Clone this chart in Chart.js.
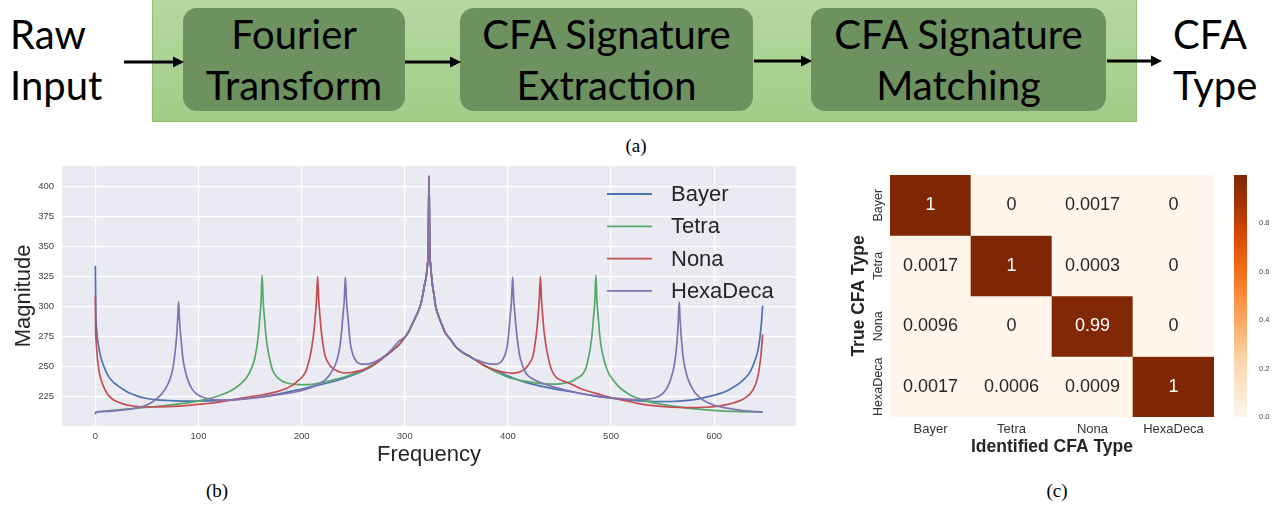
<!DOCTYPE html>
<html>
<head>
<meta charset="utf-8">
<script src="https://cdn.jsdelivr.net/npm/chart.js@4.4.1/dist/chart.umd.min.js"></script>
<style>
  html, body { margin: 0; padding: 0; background: #fff; }
  body { width: 1278px; height: 509px; position: relative; overflow: hidden; }
  .abs { position: absolute; }
  #panel { left: 152px; top: -1px; width: 985px; height: 123px; box-sizing: border-box;
           background: linear-gradient(#b5d7a1, #a2cd88); border: 1px solid #8dc16e; }
  .box { position: absolute; top: 8px; height: 103px; background: #6e9160; border-radius: 14px;
         display: flex; align-items: center; justify-content: center; }
  .txt { font-family: Lato, sans-serif; font-size: 40px; line-height: 51px; color: #000; text-align: center; }
  .side { position: absolute; top: 9px; text-align: left; }
  .cap { position: absolute; font-family: "Liberation Serif", serif; font-size: 19px; color: #000;
         transform: translate(-50%, -50%); }
  canvas { position: absolute; }
</style>
</head>
<body>
<!-- (a) pipeline -->
<div id="panel" class="abs"></div>
<div class="box" style="left:183px;width:222px"><div class="txt">Fourier<br>Transform</div></div>
<div class="box" style="left:460px;width:293px"><div class="txt">CFA Signature<br>Extraction</div></div>
<div class="box" style="left:811px;width:295px"><div class="txt">CFA Signature<br>Matching</div></div>
<div class="txt side" style="left:10px">Raw<br>Input</div>
<div class="txt side" style="left:1173px">CFA<br>Type</div>
<svg class="abs" style="left:0;top:0" width="1278" height="130">
  <g stroke="#000" stroke-width="3">
    <line x1="124" y1="62" x2="175" y2="62"/>
    <line x1="405" y1="62" x2="452" y2="62"/>
    <line x1="754" y1="61" x2="803" y2="61"/>
    <line x1="1107" y1="61" x2="1153" y2="61"/>
  </g>
  <g fill="#000">
    <polygon points="184,62 173,56.5 173,67.5"/>
    <polygon points="461,62 450,56.5 450,67.5"/>
    <polygon points="812,61 801,55.5 801,66.5"/>
    <polygon points="1162,61 1151,55.5 1151,66.5"/>
  </g>
</svg>
<div class="cap" style="left:636px;top:146px">(a)</div>

<canvas id="spec" width="810" height="320" style="left:0;top:160px"></canvas>
<canvas id="heat" width="385" height="310" style="left:840px;top:160px"></canvas>
<canvas id="cbar" width="53" height="310" style="left:1225px;top:160px"></canvas>
<div class="cap" style="left:217px;top:491px">(b)</div>
<div class="cap" style="left:1057px;top:491px">(c)</div>

<script>
// ---- (b) spectrum data ----
const seriesNames = ['Bayer', 'Tetra', 'Nona', 'HexaDeca'];
const seriesColors = ['#4C72B0', '#55A868', '#C44E52', '#8172B2'];
const freqTicks = [0, 100, 200, 300, 400, 500, 600];
const magTicks = [225, 250, 275, 300, 325, 350, 375, 400];

const bayerX = [0, 0.4, 1.3, 3, 5, 7.5, 10, 13, 17, 21, 26, 32, 40, 50, 60, 70, 85, 100, 120, 140,
  160, 178, 195, 210, 225, 236, 248, 258, 268, 276,
  284, 289, 293.5, 297.5, 301, 304, 307, 310, 313, 315.5, 317.5, 319.2, 320.8, 322, 322.8, 323.5,
  324.2, 325, 326, 327.2, 328.5, 330, 332.8, 336, 339.2, 344, 349, 355, 361, 368,
  380, 390, 401, 417, 433, 450, 466, 482, 494, 510, 527, 545, 559, 572, 585, 601, 610, 617, 624,
  630, 635, 639, 642, 644, 645.7, 647];
const bayerY = [334, 298, 280, 268, 259, 252, 246.5, 241.6, 237.5, 234.7, 231.8, 228.5, 225.8, 223.6,
  222.4, 221.9, 221.4, 221.4, 221.8, 222.8,
  224.8, 227.5, 230.5, 233.5, 236.5, 239, 242.5, 246, 250.3, 255.2,
  260.8, 264.3, 267.5, 271.5, 275.5, 279.5, 285, 290.5, 296, 302, 310, 318, 325, 335, 348, 408.6,
  348, 335, 325, 316, 309, 300, 292, 285, 278.5, 273, 267, 262.5, 259.5, 256,
  250, 245.8, 242, 237, 233.6, 230.8, 228.6, 226, 224.4, 222.8, 221.6, 221, 221.1, 221.8, 223.3,
  226.6, 229, 232.2, 236, 240.5, 246, 254, 262, 272, 285, 301];

const tetraX = [0, 12, 25, 40, 55, 70, 85, 97, 108, 118, 128, 136, 142, 147, 151, 154, 156.3, 158,
  159.5, 160.7, 161.7, 162.7, 163.9, 165.4, 167.1, 169.4, 171.5, 175, 180.8, 187, 194, 202, 210,
  218, 226, 234, 242, 250, 258, 266, 275,
  284, 289, 293.5, 297.5, 301, 304, 307, 310, 313, 315.5, 317.5, 319.2, 320.8, 322, 322.8, 323.5,
  324.2, 325, 326, 327.2, 328.5, 330, 332.8, 336, 339.2, 344, 349, 355, 361, 368,
  378, 389, 401, 413, 425, 437, 447, 455, 462, 467, 471.5, 475.3, 477.5, 479.8, 481.5, 483, 484.3,
  485.3, 486.3, 487.6, 489.1, 490.8, 493.1, 495.3, 498, 501.2, 504.4, 510, 520, 531, 543, 558,
  575, 590, 607, 625, 647];
const tetraY = [212.2, 213.3, 214.3, 215.5, 216.6, 218, 219.5, 221, 223, 225.5, 228.5, 232.5, 236.5,
  241.5, 248, 255, 265, 276, 291, 305, 326.2, 305, 291, 276, 265, 255, 248, 242.5, 238.2, 236.3,
  235.3, 235.1, 235.3, 236.7, 238, 239.8, 241.5, 244, 246.8, 250.5, 255.3,
  260.8, 264.3, 267.5, 271.5, 275.5, 279.5, 285, 290.5, 296, 302, 310, 318, 325, 335, 348, 408.6,
  348, 335, 325, 316, 309, 300, 292, 285, 278.5, 273, 267, 262.5, 259.5, 256,
  250.5, 245.5, 241, 238.5, 236.8, 235.8, 235.5, 236.3, 238, 240.5, 243, 248, 255, 265, 276, 291,
  305, 326.2, 305, 291, 276, 265, 256, 249.5, 244, 240, 236.4, 231.5, 225.8, 222.2, 219.7, 217.5,
  215.5, 214.3, 213.3, 212.7, 212.2];

const nonaX = [0, 0.2, 0.7, 1.5, 2.6, 4, 5.8, 8, 10, 13, 17, 23, 30, 37, 45, 52, 62, 75, 90, 105,
  120, 135, 145, 152, 160, 168, 176, 184, 191, 196, 200.5, 204, 206, 208, 210, 212, 213.2, 214.4,
  215.5, 216.6, 217.8, 219, 221, 223, 226, 229, 232.4, 237, 242, 248, 255, 262, 268, 274, 280,
  284, 289, 293.5, 297.5, 301, 304, 307, 310, 313, 315.5, 317.5, 319.2, 320.8, 322, 322.8, 323.5,
  324.2, 325, 326, 327.2, 328.5, 330, 332.8, 336, 339.2, 344, 349, 355, 361, 368,
  374, 379, 385, 392, 399, 405, 410, 414.6, 418, 421, 424, 426, 428, 429.2, 430.4, 431.5, 432.6,
  433.8, 435, 437, 439, 441, 443, 446.5, 451, 456, 464, 472, 480, 488, 496, 510, 527, 543, 559,
  575, 591, 602, 611, 620, 627, 632, 636.6, 640, 642.4, 644, 645.2, 646.2, 647];
const nonaY = [309, 285, 272, 262, 252.5, 244.5, 238.6, 233.5, 229.8, 226, 222.8, 220.3, 218.3,
  217.3, 216.7, 216.5, 216.6, 217, 217.9, 219.1,
  220.6, 222.8, 224.4, 225.3, 226.3, 227.6, 229.3, 231.5, 234.5, 238, 241.5, 246, 251, 258, 267,
  280, 292, 305, 325.2, 305, 292, 280, 267, 258.5, 253, 249.5, 247.5, 245.6, 244.8, 245.2, 246.3,
  248.1, 250.5, 254.2, 258.3,
  260.8, 264.3, 267.5, 271.5, 275.5, 279.5, 285, 290.5, 296, 302, 310, 318, 325, 335, 348, 408.6,
  348, 335, 325, 316, 309, 300, 292, 285, 278.5, 273, 267, 262.5, 259.5, 256,
  252.5, 250.2, 248, 246.1, 245, 244.7, 245.3, 247, 249.5, 253, 258, 267, 280, 292, 305, 325.2,
  305, 292, 280, 267, 258, 251, 246.1, 241.5, 239, 237.5, 234.5, 231.3, 229.2, 227.2, 225.2,
  222.5, 219.3, 217.4, 216.3, 216, 216.3, 217, 218.3, 220.3, 222.5, 225.3, 229.4, 235, 242, 250,
  258, 268, 277];

const hexaX = [0, 0.8, 10, 20, 30, 39, 47, 55, 61, 65.5, 69.5, 72.5, 74.8, 76.3, 77.8, 79, 80, 80.7,
  81.4, 82.5, 83.8, 85.2, 87, 89.5, 92, 96, 101, 107, 114, 122, 130, 140, 152, 163, 177.5, 193.7,
  205, 213, 219, 224, 228.5, 232.4, 235, 237.3, 238.8, 240, 241.3, 242.4, 243.5, 244.8, 246,
  247.3, 249, 252, 255, 258.3, 263, 268, 274, 281, 287, 293.9, 301,
  304, 307, 310, 313, 315.5, 317.5, 319.2, 320.8, 322, 322.8, 323.5,
  324.2, 325, 326, 327.2, 328.5, 330, 332.8, 336, 339.2, 344, 349, 355, 361, 368,
  373, 379, 384, 388.7, 392, 395, 398, 399.7, 401, 402.2, 403.5, 404.6, 405.7, 407, 408.2, 409.7,
  411.5, 414, 417.2, 421, 427, 435, 443, 454, 465.6, 477, 488, 500, 512, 527, 537, 546, 551, 555,
  558, 560.3, 562, 563.5, 564.6, 565.4, 566.1, 566.8, 567.8, 569, 570.4, 572.3, 574.5, 577.5, 581,
  586, 592, 600, 608, 619, 630, 640, 647];
const hexaY = [210.3, 212.5, 212.9, 213.5, 214.4, 215.5, 217.3, 220.5, 224.5, 228.5, 234, 240, 247,
  255, 266, 278, 292, 304, 292, 278, 266, 255, 247, 239.5, 234, 229, 225.8, 223.8, 222.6, 222.2,
  222.4, 222.9, 223.8, 225, 226.8, 229, 231.5, 234, 236.8, 240, 245, 251, 258, 268, 280, 292, 305,
  324.5, 305, 292, 280, 269, 262, 255.8, 253, 252.2, 252.2, 253, 255.5, 259.3, 264, 271, 275.5,
  279.5, 285, 290.5, 296, 302, 310, 318, 325, 335, 348, 408.6,
  348, 335, 325, 316, 309, 300, 292, 285, 278.5, 273, 267, 262.5, 259.5, 256,
  254.8, 253, 252.2, 252.2, 253, 255.8, 262, 269, 280, 292, 305, 324.5, 305, 292, 280, 269, 259,
  251.5, 245, 241.5, 238.6, 235.8, 233.5, 231, 228.6, 226.8, 225.3, 224.2, 223.3, 222.5, 223.2,
  225.2, 228.5, 233.5, 240, 247, 255, 266, 278, 292, 304, 292, 278, 266, 255, 247, 240, 234, 229,
  224.5, 220.8, 218, 216.2, 214.6, 213.4, 212.7, 212.2];

// ---- (c) confusion matrix ----
const trueTypes = ['Bayer', 'Tetra', 'Nona', 'HexaDeca'];
const identTypes = ['Bayer', 'Tetra', 'Nona', 'HexaDeca'];
const confBayer = [1, 0, 0.0017, 0];
const confTetra = [0.0017, 1, 0.0003, 0];
const confNona = [0.0096, 0, 0.99, 0];
const confHexaDeca = [0.0017, 0.0006, 0.0009, 1];
const cbarTicks = [0, 0.2, 0.4, 0.6, 0.8];

const confRows = [confBayer, confTetra, confNona, confHexaDeca];
const orangeStops = ['#fff5eb', '#fee6ce', '#fdd0a2', '#fdae6b', '#fd8d3c', '#f16913', '#d94801', '#a63603', '#7f2704'];

function hexRgb(h) {
  return [parseInt(h.slice(1, 3), 16), parseInt(h.slice(3, 5), 16), parseInt(h.slice(5, 7), 16)];
}
function oranges(t) {
  t = Math.max(0, Math.min(1, t));
  const p = t * (orangeStops.length - 1);
  const i = Math.min(Math.floor(p), orangeStops.length - 2);
  const f = p - i;
  const a = hexRgb(orangeStops[i]), b = hexRgb(orangeStops[i + 1]);
  return 'rgb(' + a.map((v, k) => Math.round(v + (b[k] - v) * f)).join(',') + ')';
}

const SANS = '"Liberation Sans", Arial, sans-serif';
Chart.defaults.font.family = SANS;
Chart.defaults.animation = false;

// keep the plot box exactly where the layout padding puts it
function noEdgePad(s) {
  s.paddingTop = 0; s.paddingBottom = 0; s.paddingLeft = 0; s.paddingRight = 0;
}

// ---------- line chart ----------
const xsList = [bayerX, tetraX, nonaX, hexaX];
const ysList = [bayerY, tetraY, nonaY, hexaY];

const plotBg = {
  id: 'plotBg',
  beforeDraw(chart) {
    const { ctx, chartArea: a } = chart;
    ctx.save();
    ctx.fillStyle = '#EAEAF2';
    ctx.fillRect(a.left, a.top, a.right - a.left, a.bottom - a.top);
    ctx.restore();
  }
};

const specLegend = {
  id: 'specLegend',
  afterDraw(chart) {
    const { ctx, chartArea: a } = chart;
    ctx.save();
    ctx.font = '22px ' + SANS;
    ctx.textBaseline = 'middle';
    seriesNames.forEach((name, i) => {
      const y = a.top + 28 + i * 32.3;
      ctx.strokeStyle = seriesColors[i];
      ctx.lineWidth = 1.8;
      ctx.beginPath();
      ctx.moveTo(a.right - 189, y);
      ctx.lineTo(a.right - 144, y);
      ctx.stroke();
      ctx.fillStyle = '#262626';
      ctx.fillText(name, a.right - 125, y + 1);
    });
    ctx.restore();
  }
};

new Chart(document.getElementById('spec'), {
  type: 'line',
  data: {
    datasets: seriesNames.map((name, i) => ({
      label: name,
      data: xsList[i].map((x, k) => ({ x: x, y: ysList[i][k] })),
      borderColor: seriesColors[i],
      borderWidth: 1.7,
      pointRadius: 0,
      cubicInterpolationMode: 'monotone',
      order: seriesNames.length - i
    }))
  },
  options: {
    responsive: false,
    devicePixelRatio: 1,
    layout: { padding: { top: 6, right: 14, left: 0, bottom: 0 } },
    plugins: { legend: { display: false }, tooltip: { enabled: false } },
    scales: {
      x: {
        type: 'linear', min: -32.35, max: 679.35,
        afterBuildTicks: s => { s.ticks = freqTicks.map(v => ({ value: v })); },
        afterFit: s => { s.height = 54; noEdgePad(s); },
        grid: { color: '#ffffff', lineWidth: 1.2, drawTicks: false },
        border: { display: false },
        ticks: { font: { size: 9.5 }, color: '#444', padding: 5, maxRotation: 0 },
        title: { display: true, text: 'Frequency', font: { size: 22 }, color: '#262626', padding: { top: 0, bottom: 12 } }
      },
      y: {
        type: 'linear', min: 200.7, max: 417,
        afterBuildTicks: s => { s.ticks = magTicks.map(v => ({ value: v })); },
        afterFit: s => { s.width = 62; noEdgePad(s); },
        grid: { color: '#ffffff', lineWidth: 1.2, drawTicks: false },
        border: { display: false },
        ticks: { font: { size: 9.5 }, color: '#444', padding: 8 },
        title: { display: true, text: 'Magnitude', font: { size: 22 }, color: '#262626', padding: { top: 11, bottom: 0 } }
      }
    }
  },
  plugins: [plotBg, specLegend]
});

// ---------- heatmap ----------
const cellText = {
  id: 'cellText',
  afterDatasetsDraw(chart) {
    const ctx = chart.ctx;
    ctx.save();
    ctx.textAlign = 'center';
    ctx.textBaseline = 'middle';
    ctx.font = '18px ' + SANS;
    confRows.forEach((row, r) => {
      chart.getDatasetMeta(r).data.forEach((bar, c) => {
        ctx.fillStyle = row[c] > 0.5 ? '#ffffff' : '#262626';
        ctx.fillText(String(row[c]), bar.x, (bar.y + bar.base) / 2);
      });
    });
    const ys = chart.scales.y;
    ctx.font = '12.5px ' + SANS;
    ctx.fillStyle = '#333';
    trueTypes.forEach((t, r) => {
      ctx.save();
      ctx.translate(ys.right - 11, ys.getPixelForValue(r + 0.5));
      ctx.rotate(-Math.PI / 2);
      ctx.fillText(t, 0, 0);
      ctx.restore();
    });
    ctx.restore();
  }
};

new Chart(document.getElementById('heat'), {
  type: 'bar',
  data: {
    labels: identTypes,
    datasets: trueTypes.map((t, r) => ({
      label: t,
      data: identTypes.map(() => [r, r + 1]),
      backgroundColor: confRows[r].map(v => oranges(v)),
      borderWidth: 0,
      borderSkipped: false,
      grouped: false,
      barPercentage: 1,
      categoryPercentage: 1
    }))
  },
  options: {
    responsive: false,
    devicePixelRatio: 1,
    layout: { padding: { top: 15, right: 11, left: 0, bottom: 0 } },
    plugins: { legend: { display: false }, tooltip: { enabled: false } },
    scales: {
      x: {
        afterFit: s => { s.height = 53; noEdgePad(s); },
        grid: { display: false },
        border: { display: false },
        ticks: { font: { size: 13 }, color: '#333', padding: -3, maxRotation: 0 },
        title: { display: true, text: 'Identified CFA Type', font: { size: 17.5, weight: 'bold' }, color: '#262626', padding: { top: 0, bottom: 12 } }
      },
      y: {
        type: 'linear', min: 0, max: 4, reverse: true,
        afterFit: s => { s.width = 50; noEdgePad(s); },
        grid: { display: false },
        border: { display: false },
        ticks: { display: false },
        title: { display: true, text: 'True CFA Type', font: { size: 17.5, weight: 'bold' }, color: '#262626', padding: { top: 9, bottom: 0 } }
      }
    }
  },
  plugins: [cellText]
});

// ---------- colour bar ----------
new Chart(document.getElementById('cbar'), {
  type: 'bar',
  data: {
    labels: [''],
    datasets: [{
      data: [[0, 1]],
      backgroundColor: ctx => {
        const ch = ctx.chart, a = ch.chartArea;
        if (!a) return orangeStops[4];
        const ys = ch.scales.y;
        const g = ch.ctx.createLinearGradient(0, ys.getPixelForValue(0), 0, ys.getPixelForValue(1));
        orangeStops.forEach((c, i) => g.addColorStop(i / (orangeStops.length - 1), c));
        return g;
      },
      borderWidth: 0,
      barPercentage: 1,
      categoryPercentage: 1
    }]
  },
  options: {
    responsive: false,
    devicePixelRatio: 1,
    layout: { padding: { top: 15, right: 0, left: 9, bottom: 53 } },
    plugins: { legend: { display: false }, tooltip: { enabled: false } },
    scales: {
      x: { display: false },
      y: {
        position: 'right', min: 0, max: 1,
        afterBuildTicks: s => { s.ticks = cbarTicks.map(v => ({ value: v })); },
        afterFit: s => { s.width = 31; noEdgePad(s); },
        grid: { display: false },
        border: { display: false },
        ticks: { font: { size: 7.5 }, color: '#444', padding: 4, callback: v => v.toFixed(1) }
      }
    }
  }
});
</script>
</body>
</html>
